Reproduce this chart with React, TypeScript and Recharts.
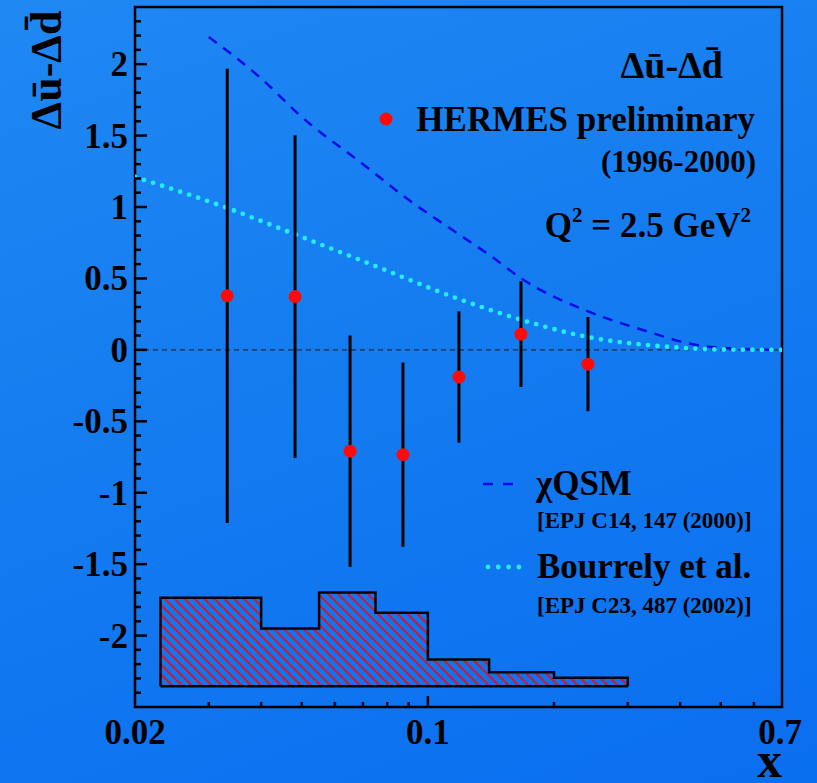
import {
  Area,
  ComposedChart,
  ErrorBar,
  Line,
  ReferenceArea,
  ReferenceLine,
  Scatter,
  XAxis,
  YAxis,
} from "recharts";

// HERMES preliminary points (x, value, stat. error)
const hermesX = [0.0332, 0.0482, 0.0652, 0.0872, 0.1186, 0.1668, 0.241];
const hermesY = [0.378, 0.373, -0.709, -0.734, -0.19, 0.11, -0.1];
const hermesErr = [1.59, 1.13, 0.81, 0.645, 0.46, 0.37, 0.33];

// chi-QSM curve
const qsmX = [0.03, 0.04, 0.05, 0.07, 0.09, 0.117, 0.144, 0.167, 0.236, 0.317, 0.457, 0.55, 0.7];
const qsmY = [2.19, 1.9, 1.63, 1.3, 1.05, 0.82, 0.64, 0.5, 0.28, 0.15, 0.025, 0.008, 0];

// Bourrely et al. curve
const bsbX = [0.02, 0.0327, 0.049, 0.073, 0.115, 0.165, 0.238, 0.367, 0.49, 0.7];
const bsbY = [1.21, 1.0, 0.8, 0.6, 0.37, 0.215, 0.093, 0.023, 0.003, 0];

// systematic error band (bin edges, bin tops, baseline)
const sysEdges = [0.023, 0.04, 0.055, 0.075, 0.1, 0.14, 0.2, 0.3];
const sysTop = [-1.735, -1.951, -1.698, -1.84, -2.168, -2.256, -2.296];
const sysBase = -2.355;

const yTicks = [
  -2.4, -2.3, -2.2, -2.1, -2, -1.9, -1.8, -1.7, -1.6, -1.5, -1.4, -1.3, -1.2, -1.1, -1, -0.9,
  -0.8, -0.7, -0.6, -0.5, -0.4, -0.3, -0.2, -0.1, 0, 0.1, 0.2, 0.3, 0.4, 0.5, 0.6, 0.7, 0.8,
  0.9, 1, 1.1, 1.2, 1.3, 1.4, 1.5, 1.6, 1.7, 1.8, 1.9, 2, 2.1, 2.2, 2.3,
];
const yLabels = [-2, -1.5, -1, -0.5, 0, 0.5, 1, 1.5, 2];
const xTicks = [0.02, 0.03, 0.04, 0.05, 0.06, 0.07, 0.08, 0.09, 0.1, 0.2, 0.3, 0.4, 0.5, 0.6, 0.7];
const xLabels = [0.02, 0.1, 0.7];

const hermes = hermesX.map((x, i) => ({ x, y: hermesY[i], err: hermesErr[i] }));
const qsm = qsmX.map((x, i) => ({ x, y: qsmY[i] }));
const bsb = bsbX.map((x, i) => ({ x, y: bsbY[i] }));
const sysArea = [
  { x: sysEdges[0], y: sysBase },
  ...sysTop.map((t, i) => ({ x: sysEdges[i], y: t })),
  { x: sysEdges[sysEdges.length - 1], y: sysBase },
];
const sysFloor = [
  { x: sysEdges[0], y: sysBase },
  { x: sysEdges[sysEdges.length - 1], y: sysBase },
];

const W = 817;
const H = 783;
const LEFT = 135;
const BOTTOM = 707;
const FONT = '"Liberation Serif", "Times New Roman", Tinos, "DejaVu Serif", serif';
const serif = { fontFamily: FONT, fontWeight: 700 };

const YTick = ({ y, payload }: any) => {
  const major = yLabels.includes(payload.value);
  return (
    <g>
      <line x1={LEFT} x2={LEFT + (major ? 12 : 6)} y1={y} y2={y} stroke="#000" strokeWidth={2.5} />
      {major && (
        <text x={128} y={y + 12} textAnchor="end" style={{ ...serif, fontSize: 35 }} fill="#000">
          {payload.value}
        </text>
      )}
    </g>
  );
};

const XTick = ({ x, payload }: any) => {
  const v = payload.value;
  const label = xLabels.includes(v);
  const edge = v === 0.02 || v === 0.7;
  return (
    <g>
      {!edge && (
        <line x1={x} x2={x} y1={BOTTOM} y2={BOTTOM - (v === 0.1 ? 11 : 5)} stroke="#000" strokeWidth={2.5} />
      )}
      {label && (
        <text x={v === 0.7 ? x - 2 : x} y={744} textAnchor="middle" style={{ ...serif, fontSize: 35 }} fill="#000">
          {v}
        </text>
      )}
    </g>
  );
};

const RedDot = ({ cx, cy }: any) => <circle cx={cx} cy={cy} r={6.5} fill="#ff0a0a" />;

export default function App() {
  return (
    <div
      style={{
        position: "absolute",
        left: 0,
        top: 0,
        width: W,
        height: H,
        background: "linear-gradient(160deg, #2088f3 0%, #157cf0 45%, #0a6ef0 100%)",
      }}
    >
      <ComposedChart width={W} height={H} margin={{ top: 7, right: 35, left: 0, bottom: 0 }}>
        <defs>
          <pattern id="hatch" width="7" height="7" patternUnits="userSpaceOnUse" patternTransform="rotate(-45)">
            <line x1="1" y1="0" x2="1" y2="7" stroke="#ff0000" strokeWidth={1.6} />
          </pattern>
        </defs>
        <XAxis
          dataKey="x"
          type="number"
          scale="log"
          domain={[0.02, 0.7]}
          allowDataOverflow
          ticks={xTicks}
          interval={0}
          tick={<XTick />}
          tickLine={false}
          axisLine={false}
          height={76}
        />
        <YAxis
          type="number"
          domain={[-2.5, 2.4]}
          allowDataOverflow
          ticks={yTicks}
          interval={0}
          tick={<YTick />}
          tickLine={false}
          axisLine={false}
          width={LEFT}
        />
        <ReferenceArea x1={0.02} x2={0.7} y1={-2.5} y2={2.4} fill="none" stroke="#000" strokeWidth={2.5} />
        <ReferenceLine y={0} stroke="#1c2c44" strokeWidth={1.2} strokeDasharray="5 4" />
        <Area
          data={sysArea}
          dataKey="y"
          type="stepAfter"
          baseValue={sysBase}
          fill="url(#hatch)"
          fillOpacity={1}
          stroke="#000"
          strokeWidth={2.5}
          isAnimationActive={false}
        />
        <Line data={sysFloor} dataKey="y" stroke="#000" strokeWidth={2.5} dot={false} isAnimationActive={false} />
        <Line
          data={qsm}
          dataKey="y"
          type="monotone"
          stroke="#0a0ae6"
          strokeWidth={2.5}
          strokeDasharray="10 8"
          dot={false}
          isAnimationActive={false}
        />
        <Line
          data={bsb}
          dataKey="y"
          type="monotone"
          stroke="#22eeff"
          strokeWidth={4.8}
          strokeLinecap="round"
          strokeDasharray="0 9.5"
          dot={false}
          isAnimationActive={false}
        />
        <Scatter data={hermes} dataKey="y" shape={<RedDot />} isAnimationActive={false}>
          <ErrorBar dataKey="err" direction="y" width={0} stroke="#000" strokeWidth={3} isAnimationActive={false} />
        </Scatter>
      </ComposedChart>

      <svg
        width={W}
        height={H}
        style={{ position: "absolute", left: 0, top: 0, pointerEvents: "none", ...serif }}
        fill="#000"
      >
        <text style={{ fontSize: 44 }} transform="translate(61,70) rotate(-90)" textAnchor="middle">
          Δū-Δd̄
        </text>
        <text style={{ fontSize: 38 }} x={723} y={78} textAnchor="end">
          Δū-Δd̄
        </text>
        <circle cx={386} cy={119} r={6.5} fill="#ff0a0a" />
        <text style={{ fontSize: 35 }} x={755} y={131} textAnchor="end">
          HERMES preliminary
        </text>
        <text style={{ fontSize: 31 }} x={756} y={172} textAnchor="end">
          (1996-2000)
        </text>
        <text style={{ fontSize: 35 }} x={751} y={237} textAnchor="end">
          Q<tspan dy={-15} style={{ fontSize: 21 }}>2</tspan>
          <tspan dy={15}> = 2.5 GeV</tspan>
          <tspan dy={-15} style={{ fontSize: 21 }}>2</tspan>
        </text>
        <line x1={483} x2={513} y1={484} y2={484} stroke="#0a0ae6" strokeWidth={2.5} strokeDasharray="10 10" />
        <text style={{ fontSize: 35 }} x={536} y={495}>
          χQSM
        </text>
        <text style={{ fontSize: 23 }} x={537} y={528}>
          [EPJ C14, 147 (2000)]
        </text>
        <line
          x1={488}
          x2={520}
          y1={567}
          y2={567}
          stroke="#22eeff"
          strokeWidth={4.8}
          strokeLinecap="round"
          strokeDasharray="0 10.3"
        />
        <text style={{ fontSize: 35 }} x={537} y={578}>
          Bourrely et al.
        </text>
        <text style={{ fontSize: 23 }} x={537} y={613}>
          [EPJ C23, 487 (2002)]
        </text>
        <text style={{ fontSize: 50 }} x={782} y={777} textAnchor="end">
          x
        </text>
      </svg>
    </div>
  );
}
